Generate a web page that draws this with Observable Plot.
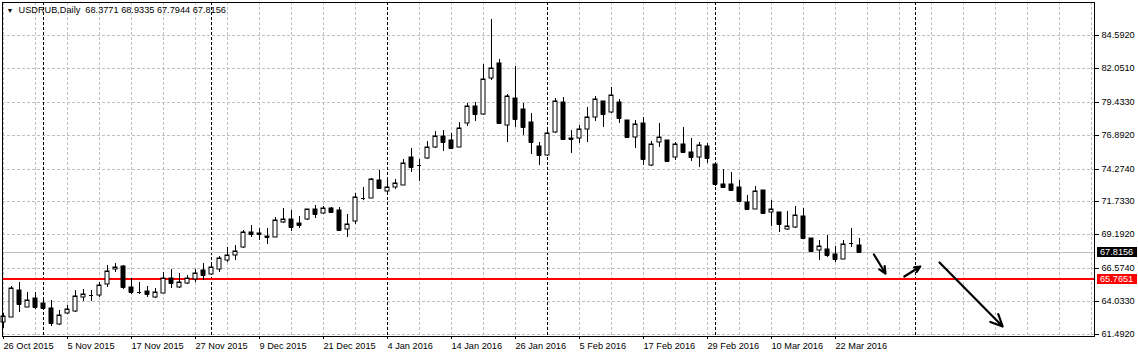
<!DOCTYPE html>
<html>
<head>
<meta charset="utf-8">
<script src="https://cdn.jsdelivr.net/npm/d3@7"></script>
<script src="https://cdn.jsdelivr.net/npm/@observablehq/plot@0.6"></script>
<style>
  html, body { margin: 0; padding: 0; background: #fff; }
  #chart svg { display: block; }
</style>
</head>
<body>
<div id="chart"></div>
<script>
// ---- data ----
const symbolName = "USDRUB,Daily";
const openP = [62.37,62.81,64.88,63.58,64.23,63.87,63.46,62.22,63.07,63.27,
  64.36,64.47,64.47,65.32,66.48,66.76,65.09,64.76,64.78,64.31,
  64.62,65.78,65.13,65.40,65.75,66.40,66.14,66.48,67.22,67.61,
  68.21,69.37,69.28,69.04,69.01,70.12,70.38,70.04,70.35,71.15,
  70.82,71.21,71.05,69.58,70.24,72.04,72.03,73.40,72.57,72.83,
  73.01,75.16,74.58,75.08,75.98,76.78,76.47,75.98,77.79,79.13,
  78.49,81.28,82.44,77.66,79.73,78.87,77.91,76.03,75.31,77.09,
  79.46,76.64,76.63,77.32,78.25,79.49,78.64,79.42,78.05,76.75,
  77.79,74.54,76.34,76.47,75.16,76.16,75.54,75.16,76.03,74.64,
  73.09,73.06,72.86,71.72,71.17,72.60,70.90,70.92,69.58,69.73,
  70.61,68.91,67.95,68.05,67.67,67.30,68.50,68.3771];
const highP = [63.07,65.19,65.50,64.70,64.70,64.22,64.10,63.33,63.69,64.88,
  64.95,64.88,65.50,66.81,66.95,66.81,65.78,65.47,65.21,65.01,
  66.29,66.48,66.17,66.04,66.50,66.97,66.91,67.49,68.18,68.34,
  69.50,69.91,69.66,69.66,70.51,71.21,71.05,70.59,71.15,71.46,
  71.36,71.31,71.28,70.76,72.37,72.86,73.55,74.17,73.65,73.48,
  75.02,75.90,75.02,76.42,77.19,77.27,77.01,77.87,79.34,79.42,
  82.38,85.87,82.77,80.06,82.23,79.34,78.56,76.34,77.40,79.73,
  79.80,77.27,77.66,79.03,79.90,79.54,80.62,79.65,78.07,78.05,
  78.30,76.42,77.79,76.50,76.36,77.48,76.63,76.32,76.29,74.66,
  74.25,74.02,73.40,72.24,72.93,72.62,71.85,70.93,71.02,71.38,
  71.23,68.93,68.75,69.14,68.29,68.75,69.68,68.9335];
const lowP = [61.91,62.79,63.20,63.56,63.43,63.48,62.09,62.19,62.99,63.17,
  64.05,64.05,64.31,65.09,66.27,64.93,64.54,64.54,64.31,64.28,
  64.61,65.03,65.01,65.36,65.52,65.67,66.09,66.29,67.02,67.22,
  68.11,69.01,68.73,68.46,68.98,70.04,69.47,69.70,70.30,70.48,
  70.76,70.84,69.47,69.01,69.97,71.83,71.98,72.72,72.49,72.68,
  72.99,73.99,73.34,75.00,75.85,75.67,75.85,75.95,77.56,77.99,
  78.46,81.14,77.74,76.36,77.53,76.88,75.41,74.54,75.28,77.01,
  76.53,75.47,76.24,76.34,77.99,77.53,78.61,77.84,76.73,75.85,
  74.54,74.52,75.93,74.85,74.95,75.51,74.89,74.43,74.74,72.96,
  72.75,72.62,71.67,71.07,71.15,70.74,69.83,69.39,69.56,69.66,
  68.91,67.84,67.20,67.46,67.07,67.28,68.23,67.7944];
const closeP = [62.86,65.01,63.77,64.10,63.58,63.51,62.30,62.92,63.38,64.41,
  64.57,64.49,65.24,66.37,66.64,65.13,64.75,64.74,64.54,64.70,
  65.78,65.40,65.52,65.78,66.17,66.06,66.64,67.33,67.56,67.87,
  69.35,69.21,69.25,69.02,70.28,70.38,69.73,69.94,71.13,70.79,
  71.21,70.90,69.55,69.99,72.10,72.02,73.45,72.75,72.83,73.14,
  74.71,74.43,74.54,75.98,76.78,76.36,75.90,77.40,79.13,78.49,
  81.20,82.05,77.79,79.90,78.10,77.53,76.32,75.31,77.01,79.54,
  76.55,76.61,77.37,78.30,79.65,78.53,79.96,78.18,76.75,77.71,
  75.00,76.16,76.75,74.87,76.19,75.54,75.16,76.11,75.08,73.06,
  72.88,72.65,71.79,71.17,72.55,70.86,71.13,69.97,69.83,70.66,
  68.93,67.92,68.26,67.61,67.30,68.42,68.48,67.8156];

const xTickLabels = ["26 Oct 2015","5 Nov 2015","17 Nov 2015","27 Nov 2015","9 Dec 2015",
  "21 Dec 2015","4 Jan 2016","14 Jan 2016","26 Jan 2016","5 Feb 2016",
  "17 Feb 2016","29 Feb 2016","10 Mar 2016","22 Mar 2016"];
const xTickBars = [0,8,16,24,32,40,48,56,64,72,80,88,96,104];
const yTickValues = [61.492,64.033,66.574,69.192,71.733,74.274,76.892,79.433,82.051,84.592];
const periodSeparatorBars = [5,26,48,68,89,114];   // month starts (Nov..Apr)
const bidPrice = 67.8156;     // current price line
const levelPrice = 65.7651;   // red horizontal level
// drawn arrows (bar index / price)
const arrowX1 = [108.8,112.6,117.0];
const arrowY1 = [67.67,65.98,67.07];
const arrowX2 = [110.25,114.6,124.9];
const arrowY2 = [66.22,66.74,62.09];

// ---- build ----
const candles = openP.map((o, i) => ({i, o, h: highP[i], l: lowP[i], c: closeP[i], up: closeP[i] >= o}));
const gridBars = d3.range(0, 137, 4);
const fmt4 = v => v.toFixed(4);
const header = `${symbolName}\u00a0\u00a0${[openP, highP, lowP, closeP].map(a => fmt4(a[a.length - 1])).join(" ")}`;
const arrows = arrowX1.map((_, k) => k);

const W = 1138, H = 357;
const plot = Plot.plot({
  width: W,
  height: H,
  marginLeft: 2,
  marginRight: 44,
  marginTop: 2,
  marginBottom: 21,
  style: {fontFamily: "'Liberation Sans', Arial, sans-serif", fontSize: "9.2px", color: "#000", background: "#fff"},
  x: {type: "linear", domain: [-0.125, 136.375]},
  y: {type: "linear", domain: [61.313, 87.185], round: true},
  color: {type: "identity"},
  marks: [
    Plot.ruleX(gridBars, {stroke: "#c0c0c0", strokeDasharray: "3,2"}),
    Plot.ruleY(yTickValues, {stroke: "#c0c0c0", strokeDasharray: "3,2"}),
    Plot.ruleX(periodSeparatorBars, {stroke: "#000", strokeDasharray: "3,2"}),
    Plot.ruleY([bidPrice], {stroke: "#c0c0c0"}),
    Plot.ruleY([levelPrice], {stroke: "#ff0000", strokeWidth: 2, dy: -0.5}),
    Plot.ruleX(candles, {x: "i", y1: "l", y2: "h", stroke: "#000"}),
    Plot.rect(candles, {x1: d => d.i - 0.25, x2: d => d.i + 0.25, y1: "o", y2: "c",
      fill: d => d.up ? "#fff" : "#000", stroke: "#000", strokeWidth: 1}),
    Plot.ruleY(candles, {y: "c", x1: d => d.i - 0.25, x2: d => d.i + 0.25, stroke: "#000"}),
    Plot.arrow(arrows, {x1: k => arrowX1[k], y1: k => arrowY1[k], x2: k => arrowX2[k], y2: k => arrowY2[k],
      stroke: "#000", strokeWidth: 2.2, headLength: 9, headAngle: 50}),
    Plot.axisX(xTickBars, {anchor: "bottom", tickSize: 3, tickPadding: 3, textAnchor: "start", dx: 0,
      tickFormat: d => xTickLabels[xTickBars.indexOf(d)], fontSize: 9.2, label: null}),
    Plot.axisY(yTickValues, {anchor: "right", tickSize: 4, tickPadding: 3, tickFormat: fmt4, fontSize: 9.2, label: null}),
    Plot.text(["\u25BC"], {frameAnchor: "top-left", dx: 4, dy: 6, textAnchor: "start", lineAnchor: "top", fontSize: 7}),
    Plot.text([header], {frameAnchor: "top-left", dx: 16, dy: 3.5, textAnchor: "start", lineAnchor: "top", fontSize: 9.2}),
    Plot.frame({stroke: "#000"})
  ]
});

// price boxes on the right axis, positioned through Plot's y scale
const yScale = plot.scale("y");
const svg = d3.select(plot);
[[bidPrice, "#000"], [levelPrice, "#ff0000"]].forEach(([v, col]) => {
  const yy = Math.round(yScale.apply(v));
  const g = svg.append("g");
  g.append("rect").attr("x", W - 41).attr("y", yy - 5).attr("width", 40).attr("height", 10).attr("fill", col);
  g.append("text").attr("x", W - 38).attr("y", yy).attr("dy", "0.35em").attr("fill", "#fff")
    .attr("text-anchor", "start").attr("font-size", "9.2px").text(fmt4(v));
});

document.getElementById("chart").appendChild(plot);
</script>
</body>
</html>
